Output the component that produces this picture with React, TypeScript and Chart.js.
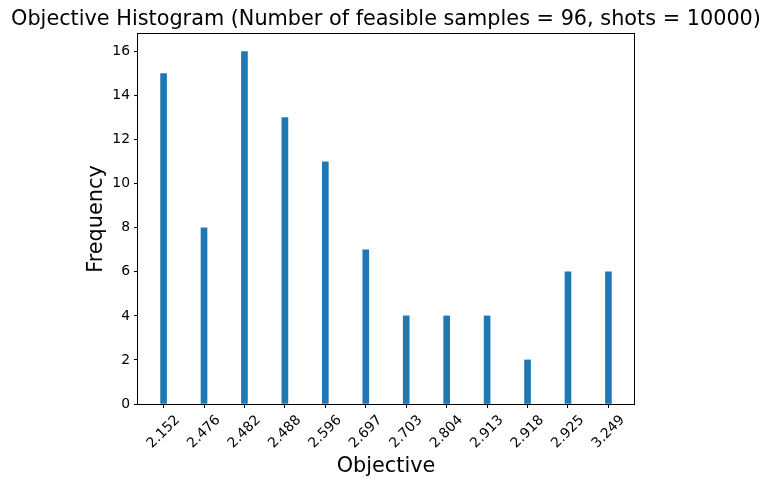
import React, { useEffect, useRef } from "react";
import { Chart, registerables } from "chart.js";

Chart.register(...registerables);

const categories = ["2.152", "2.476", "2.482", "2.488", "2.596", "2.697", "2.703", "2.804", "2.913", "2.918", "2.925", "3.249"];
const frequencies = [15, 8, 16, 13, 11, 7, 4, 4, 4, 2, 6, 6];
const yTicks = [0, 2, 4, 6, 8, 10, 12, 14, 16];
const titleText = "Objective Histogram (Number of feasible samples = 96, shots = 10000)";
const xLabel = "Objective";
const yLabel = "Frequency";

const FONT = "'DejaVu Sans', sans-serif";

export default function App() {
  const ref = useRef<HTMLCanvasElement | null>(null);

  useEffect(() => {
    if (!ref.current) return;
    const decor = {
      id: "decor",
      afterDraw(chart: any) {
        const { ctx, chartArea } = chart;
        const { left, right, top, bottom } = chartArea;
        ctx.save();
        // frame
        ctx.strokeStyle = "#000";
        ctx.lineWidth = 1;
        ctx.strokeRect(Math.round(left) - 0.5, Math.round(top) - 0.5, Math.round(right - left) + 1, Math.round(bottom - top) + 1);
        // rotated x tick labels
        const xs = chart.scales.x;
        ctx.fillStyle = "#000";
        ctx.font = `13.9px ${FONT}`;
        ctx.textAlign = "center";
        ctx.textBaseline = "middle";
        categories.forEach((lab, i) => {
          const px = xs.getPixelForValue(i);
          ctx.save();
          ctx.translate(px, bottom + 28);
          ctx.rotate(-Math.PI / 4);
          ctx.fillText(lab, 0, 0);
          ctx.restore();
        });
        // title
        ctx.font = `20.8px ${FONT}`;
        ctx.textAlign = "center";
        ctx.textBaseline = "alphabetic";
        ctx.fillText(titleText, (left + right) / 2, 25);
        // x label
        ctx.fillText(xLabel, (left + right) / 2, 472);
        // y label
        ctx.save();
        ctx.translate(102, (top + bottom) / 2);
        ctx.rotate(-Math.PI / 2);
        ctx.fillText(yLabel, 0, 0);
        ctx.restore();
        ctx.restore();
      },
    };

    const chart = new Chart(ref.current, {
      type: "bar",
      data: {
        datasets: [
          {
            data: frequencies.map((v, i) => ({ x: i, y: v })),
            backgroundColor: "#1f77b4",
            borderWidth: 0,
            barThickness: 6,
          },
        ],
      },
      options: {
        animation: false,
        responsive: true,
        maintainAspectRatio: false,
        layout: { padding: { top: 34, right: 138, left: 0, bottom: 0 } },
        plugins: { legend: { display: false }, tooltip: { enabled: false }, title: { display: false } },
        scales: {
          x: {
            type: "linear",
            offset: false,
            min: -0.6325,
            max: 11.6325,
            afterBuildTicks: (s: any) => {
              s.ticks = categories.map((_, i) => ({ value: i }));
            },
            afterFit: (s: any) => {
              s.height = 83;
            },
            ticks: { display: false },
            grid: { display: true, offset: false, drawOnChartArea: false, drawTicks: true, tickLength: 4, tickColor: "#000", tickWidth: 1 },
            border: { display: false },
          },
          y: {
            type: "linear",
            min: 0,
            max: 16.8,
            afterBuildTicks: (s: any) => {
              s.ticks = yTicks.map((v) => ({ value: v }));
            },
            afterFit: (s: any) => {
              s.width = 138;
            },
            ticks: { color: "#000", padding: 4, font: { family: FONT, size: 13.9 } },
            grid: { display: true, drawOnChartArea: false, drawTicks: true, tickLength: 4, tickColor: "#000", tickWidth: 1 },
            border: { display: false },
          },
        },
      },
      plugins: [decor],
    } as any);
    return () => chart.destroy();
  }, []);

  return (
    <div style={{ position: "fixed", left: 0, top: 0, width: 772, height: 487, background: "#fff" }}>
      <canvas ref={ref} />
    </div>
  );
}
